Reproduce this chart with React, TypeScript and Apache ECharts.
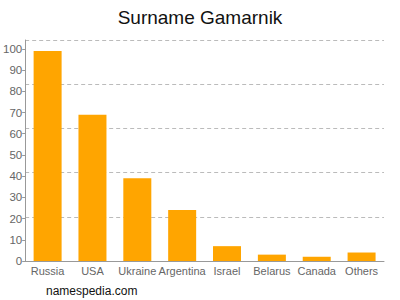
import React, { useEffect, useRef } from "react";
import * as echarts from "echarts";

const categories = ["Russia", "USA", "Ukraine", "Argentina", "Israel", "Belarus", "Canada", "Others"];
const values = [99, 69, 39, 24, 7, 3, 2, 4];
const yTicks = [0, 10, 20, 30, 40, 50, 60, 70, 80, 90, 100];
const yMax = 104.2;

export default function App() {
  const ref = useRef<HTMLDivElement>(null);
  useEffect(() => {
    const chart = echarts.init(ref.current!, null, { renderer: "svg" });
    chart.setOption({
      animation: false,
      title: {
        text: "Surname Gamarnik",
        left: "center",
        top: 3,
        textStyle: { fontFamily: "Liberation Sans", fontSize: 19, fontWeight: "normal", color: "#111" },
      },
      graphic: [
        {
          type: "text",
          left: 46,
          top: 285,
          style: { text: "namespedia.com", font: "12px Liberation Sans", fill: "#111" },
        },
      ],
      grid: { left: 24, right: 16, top: 40, bottom: 39 },
      xAxis: {
        type: "category",
        data: categories,
        axisLine: { lineStyle: { color: "#999" } },
        axisTick: { alignWithLabel: true, length: 4, lineStyle: { color: "#999" } },
        axisLabel: { color: "#666", fontFamily: "Liberation Sans", fontSize: 11, margin: 4, interval: 0 },
      },
      yAxis: [
        {
          type: "value",
          min: 0,
          max: yMax,
          axisLine: { show: true, lineStyle: { color: "#999" } },
          axisTick: { show: true, length: 3, customValues: yTicks, lineStyle: { color: "#999" } },
          axisLabel: { color: "#666", fontFamily: "Liberation Sans", fontSize: 11.5, margin: 3, customValues: yTicks },
          splitLine: { show: false },
        },
        {
          type: "value",
          min: 0,
          max: yMax,
          interval: yMax / 5,
          position: "left",
          axisLine: { show: false },
          axisTick: { show: false },
          axisLabel: { show: false },
          splitLine: { show: true, lineStyle: { color: "#bbb", type: [4, 3], width: 1 } },
        },
      ],
      series: [
        {
          type: "bar",
          data: values,
          barWidth: 28,
          itemStyle: { color: "#ffa500" },
          z: 3,
        },
      ],
    });
    return () => chart.dispose();
  }, []);
  return <div ref={ref} style={{ position: "absolute", left: 0, top: 0, width: 400, height: 300 }} />;
}
